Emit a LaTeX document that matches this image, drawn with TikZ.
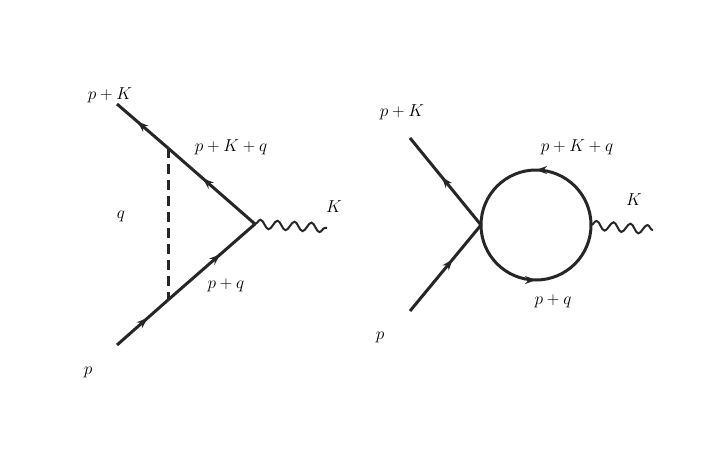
\documentclass[tikz,border=0pt]{standalone}
\usepackage{amsmath}
\usetikzlibrary{decorations.markings, decorations.pathmorphing, arrows.meta}

\begin{document}
\begin{tikzpicture}[
  x=1pt, y=-1pt,
  every node/.style={font=\fontsize{18}{20}\selectfont},
  fermion/.style={line width=3pt, black!85},
  arrowat/.style={postaction={decorate, decoration={markings,
      mark=at position #1 with {\arrow{Stealth[length=11pt,width=8pt]}}}}},
  photon/.style={line width=2pt, black!85, decorate,
      decoration={snake, amplitude=4.5pt, segment length=17pt}}
]
\useasboundingbox (0,0) rectangle (720,467);

% Vertex correction
\coordinate (ta) at (117,104);
\coordinate (ba) at (117,345);
\coordinate (va) at (255,224);
\coordinate (ka) at (327,228);
\coordinate (qt) at (168,148);
\coordinate (qb) at (168,300);
\draw[fermion, arrowat=0.6] (va) -- (qt);
\draw[fermion, arrowat=0.6] (qt) -- (ta);
\draw[fermion, arrowat=0.6] (ba) -- (qb);
\draw[fermion, arrowat=0.6] (qb) -- (va);
\draw[line width=3pt, black!85, dash pattern=on 10pt off 6pt] (qt) -- (qb);
\draw[photon] (va) -- (ka);
\node (la1) at (110,95) {$p+K$};
\node (la2) at (231,147) {$p+K+q$};
\node (la3) at (121,216) {$q$};
\node (la4) at (226,285) {$p+q$};
\node (la5) at (88,372) {$p$};
\node (la6) at (334,207) {$K$};

% Self-energy loop
\coordinate (vb) at (481,225);
\coordinate (tb) at (410,138);
\coordinate (bb) at (410,311);
\coordinate (wb) at (591,225);
\coordinate (kb) at (653,230);
\draw[fermion, arrowat=0.55] (vb) -- (tb);
\draw[fermion, arrowat=0.6] (bb) -- (vb);
\draw[fermion, arrowat=0.5] (wb) arc[start angle=0, end angle=-180, radius=55];
\draw[fermion, arrowat=0.5] (vb) arc[start angle=180, end angle=0, radius=55];
\draw[photon] (wb) -- (kb);
\node (lb1) at (402,112) {$p+K$};
\node (lb2) at (577,147) {$p+K+q$};
\node (lb3) at (634,200) {$K$};
\node (lb4) at (553,301) {$p+q$};
\node (lb5) at (380,337) {$p$};
\end{tikzpicture}
\end{document}
